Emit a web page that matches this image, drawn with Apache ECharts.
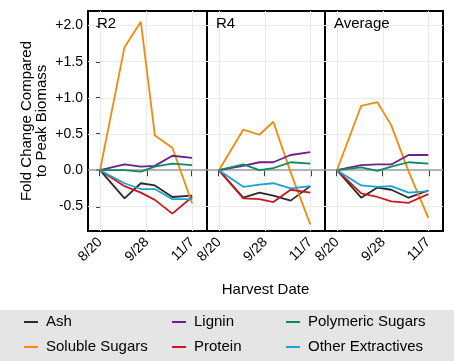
<!DOCTYPE html>
<html>
<head>
<meta charset="utf-8">
<script src="https://cdn.jsdelivr.net/npm/echarts@6/dist/echarts.min.js"></script>
<style>
  html, body { margin: 0; padding: 0; background: #fff; }
  #chart { width: 454px; height: 361px; }
</style>
</head>
<body>
<div id="chart"></div>
<script>
// harvest dates as days after 8/20
const harvestDays = [0, 21, 35, 47, 62, 79];
const tickDays = [0, 40, 79];
const tickLabels = ["8/20", "9/28", "11/7"];
const yTicks = [-0.5, 0, 0.5, 1, 1.5, 2];

const panelNames = ["R2", "R4", "Average"];
const seriesNames = ["Ash", "Soluble Sugars", "Lignin", "Protein", "Polymeric Sugars", "Other Extractives"];
const seriesColors = ["#2a2a2a", "#f5890c", "#6c1f8f", "#c8191f", "#0e8a5f", "#1aa3d6"];

// R2
const r2Ash = [0, -0.39, -0.18, -0.21, -0.37, -0.35];
const r2Soluble = [0, 1.70, 2.05, 0.48, 0.31, -0.46];
const r2Lignin = [0, 0.08, 0.05, 0.06, 0.20, 0.17];
const r2Protein = [0, -0.22, -0.31, -0.41, -0.60, -0.37];
const r2Polymeric = [0, 0.0, -0.02, 0.05, 0.09, 0.07];
const r2Other = [0, -0.18, -0.26, -0.26, -0.40, -0.40];

// R4
const r4Ash = [0, -0.38, -0.31, -0.35, -0.42, -0.22];
const r4Soluble = [0, 0.56, 0.49, 0.67, -0.03, -0.75];
const r4Lignin = [0, 0.06, 0.11, 0.11, 0.21, 0.25];
const r4Protein = [0, -0.39, -0.40, -0.44, -0.27, -0.31];
const r4Polymeric = [0, 0.08, 0.0, 0.03, 0.11, 0.09];
const r4Other = [0, -0.23, -0.20, -0.18, -0.25, -0.22];

// Average
const avgAsh = [0, -0.38, -0.24, -0.27, -0.38, -0.28];
const avgSoluble = [0, 0.89, 0.94, 0.62, -0.02, -0.66];
const avgLignin = [0, 0.07, 0.08, 0.08, 0.21, 0.21];
const avgProtein = [0, -0.32, -0.37, -0.43, -0.45, -0.33];
const avgPolymeric = [0, 0.04, -0.01, 0.05, 0.11, 0.09];
const avgOther = [0, -0.21, -0.23, -0.22, -0.31, -0.29];

const panelValues = [
    [r2Ash, r2Soluble, r2Lignin, r2Protein, r2Polymeric, r2Other],
    [r4Ash, r4Soluble, r4Lignin, r4Protein, r4Polymeric, r4Other],
    [avgAsh, avgSoluble, avgLignin, avgProtein, avgPolymeric, avgOther]
];

const FONT = '"Liberation Sans", Arial, Helvetica, sans-serif';
const gridLefts = [88, 207, 325];
const gridWidths = [119, 118, 118];
const legendLefts = [24, 172, 286];

const grids = [];
const xAxes = [];
const yAxes = [];
const series = [];

panelNames.forEach((name, i) => {
    grids.push({
        left: gridLefts[i], top: 11, width: gridWidths[i], height: 220,
        show: true, borderColor: "#000", borderWidth: 2, backgroundColor: "transparent"
    });

    xAxes.push({
        gridIndex: i, type: "value", min: -10.3, max: 91.7,
        axisLine: { show: false },
        splitLine: { show: false },
        axisTick: { show: true, customValues: tickDays, length: 6, lineStyle: { color: "#000", width: 1.5 } },
        axisLabel: {
            customValues: tickDays, rotate: 45, margin: 9,
            fontSize: 14, color: "#000", fontFamily: FONT,
            formatter: v => tickLabels[tickDays.indexOf(v)]
        }
    });

    yAxes.push({
        gridIndex: i, type: "value", min: -0.84, max: 2.2,
        axisLine: { show: false },
        splitLine: { show: false },
        axisTick: { show: i === 0, customValues: yTicks, length: 4, lineStyle: { color: "#000", width: 1.5 } },
        axisLabel: {
            show: i === 0, customValues: yTicks, margin: 5,
            fontSize: 14, color: "#000", fontFamily: FONT,
            formatter: v => (v > 0 ? "+" : "") + v.toFixed(1)
        }
    });

    // background grid lines + zero line, kept under the data lines
    const gridMarks = yTicks.filter(v => v !== 0).map(v => ({ yAxis: v }))
        .concat(tickDays.map(d => ({ xAxis: d })));
    gridMarks.push({ yAxis: 0, lineStyle: { color: "#9a9a9a", width: 1.5, type: "solid" } });
    series.push({
        type: "line", name: "_grid" + i, xAxisIndex: i, yAxisIndex: i, data: [], z: 1,
        markLine: {
            silent: true, symbol: "none", animation: false, z: 1,
            label: { show: false },
            lineStyle: { color: "#ebebeb", width: 1, type: "solid" },
            emphasis: { disabled: true },
            data: gridMarks
        }
    });

    seriesNames.forEach((s, k) => {
        series.push({
            type: "line", name: s, xAxisIndex: i, yAxisIndex: i, z: 3,
            symbol: "none", color: seriesColors[k],
            lineStyle: { width: 1.8, color: seriesColors[k] },
            data: harvestDays.map((d, j) => [d, panelValues[i][k][j]])
        });
    });
});

const legends = legendLefts.map((left, c) => ({
    orient: "vertical", left: left, top: 314, padding: 0,
    itemGap: 9, itemWidth: 14, itemHeight: 2, icon: "rect",
    selectedMode: false,
    textStyle: { fontSize: 15, lineHeight: 16, color: "#000", fontFamily: FONT, padding: [0, 0, 0, 3] },
    data: [seriesNames[2 * c], seriesNames[2 * c + 1]]
}));

const graphics = [
    { type: "rect", z: -10, shape: { x: 0, y: 310, width: 454, height: 51 }, style: { fill: "#e5e5e5" } },
    {
        type: "text", x: 34, y: 121, rotation: Math.PI / 2,
        style: {
            text: "Fold Change Compared\nto Peak Biomass", font: "15px " + FONT, lineHeight: 15,
            fill: "#000", textAlign: "center", textVerticalAlign: "middle"
        }
    },
    {
        type: "text", x: 265.5, y: 290,
        style: { text: "Harvest Date", font: "15px " + FONT, fill: "#000", textAlign: "center", textVerticalAlign: "middle" }
    }
];
panelNames.forEach((name, i) => {
    graphics.push({
        type: "text", x: gridLefts[i] + 9, y: 24, z: 10,
        style: { text: name, font: "15px " + FONT, fill: "#000", textAlign: "left", textVerticalAlign: "middle" }
    });
});

const chart = echarts.init(document.getElementById("chart"));
chart.setOption({
    animation: false,
    backgroundColor: "#fff",
    grid: grids,
    xAxis: xAxes,
    yAxis: yAxes,
    legend: legends,
    graphic: graphics,
    series: series
});
</script>
</body>
</html>
